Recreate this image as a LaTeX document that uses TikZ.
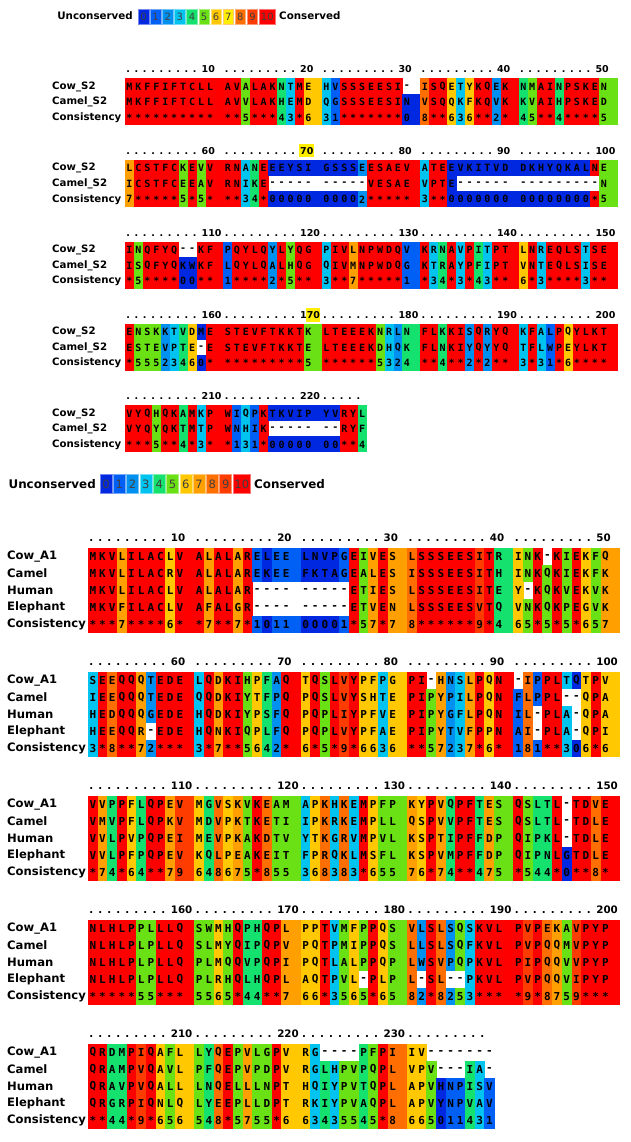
\documentclass[tikz,border=0pt]{standalone}
\usepackage{fontspec}
\setmainfont{DejaVu Sans}
\setmonofont{DejaVu Sans Mono}

% consistency colours 0..10
\definecolor{c0}{RGB}{0,40,225}
\definecolor{c1}{RGB}{0,95,245}
\definecolor{c2}{RGB}{0,145,240}
\definecolor{c3}{RGB}{0,195,240}
\definecolor{c4}{RGB}{20,225,110}
\definecolor{c5}{RGB}{105,225,20}
\definecolor{c6}{RGB}{255,200,0}
\definecolor{c7}{RGB}{255,160,0}
\definecolor{c8}{RGB}{255,110,0}
\definecolor{c9}{RGB}{255,60,0}
\definecolor{c10}{RGB}{255,0,0}
\definecolor{hl}{RGB}{255,238,0}

\ExplSyntaxOn
\cs_generate_variant:Nn \str_item:nn { on }
\cs_new:Npn \seqchar #1#2 { \str_item:on {#1} {#2} }
\ExplSyntaxOff

% #1 x0, #2 y of first row, #3 cell width, #4 row height,
% #5 column offset, #6 columns, #7 sequences, #8 consistency
\newcommand\alnline[8]{%
  \foreach \s [count=\k] in {#7,#8} {
    \pgfmathsetmacro\yy{#2+(\k-1)*#4}
    \foreach \j in {1,...,#6} {
      \edef\cc{\seqchar{#8}{\j}}
      \edef\rc{\seqchar{\s}{\j}}
      \if*\cc \def\colr{c10}\else \edef\colr{c\cc}\fi
      \pgfmathsetmacro\xx{#1+(\j-1+int((\j-1)/10))*#3}
      \pgfmathsetmacro\ww{(mod(\j,10)==0) ? 2*#3 : #3}
      \if-\rc\else
        \fill[\colr] (\xx,\yy-#4/2) rectangle ++(\ww+0.4,#4+0.4);
      \fi
      \node[res] at (\xx+#3/2,\yy+0.5) {\rc};
    }
  }
  \foreach \nm [count=\k] in \alnnames
    \node[lbl] at (\lblx,{#2+(\k-1)*#4+0.5}) {\nm};
  % ruler
  \pgfmathtruncatemacro\nb{ceil(#6/10)-1}
  \foreach \b in {0,...,\nb} {
    \pgfmathtruncatemacro\nd{min(10,#6-10*\b)}
    \ifnum\nd=10
      \pgfmathtruncatemacro\lab{#5+10*\b+10}
      \node[rul,anchor=base west] at ({#1+(11*\b+8.55)*#3},#2-\rulofs) {\lab};
      \def\nk{9}
    \else
      \let\nk\nd
    \fi
    \foreach \q in {1,...,\nk}
      \node[rul] at ({#1+(11*\b+0.35+0.93*(\q-1))*#3},#2-\rulofs) {.};
  }
}

\begin{document}
\begin{tikzpicture}[x=1pt,y=-1pt,
  res/.style={inner sep=0pt,font=\resfont},
  lbl/.style={anchor=west,inner sep=0pt,font=\lblfont},
  rul/.style={inner sep=0pt,anchor=base,font=\rulfont},
  legtxt/.style={inner sep=0pt,font=\bfseries\fontsize{#1}{#1}\selectfont},
  legnum/.style={inner sep=0pt,text=black!75,font=\fontsize{#1}{#1}\selectfont}]
\useasboundingbox (0,0) rectangle (630,1142);
\fill[white] (0,0) rectangle (630,1142);

%% legend, first alignment
\node[legtxt=10.3,anchor=east] (unc1) at (133,16) {Unconserved};
\foreach \v in {0,...,10} {
  \pgfmathsetmacro\bx{138.3+12.1*\v}
  \pgfmathsetmacro\bw{\v==10 ? 16 : 10.5}
  \def\lf{c\v}\ifnum\v=7 \def\lf{hl}\fi
  \filldraw[fill=\lf,draw=c\v!55!white,line width=0.6pt] (\bx,9) rectangle ++(\bw,15);
  \node[legnum=10] at (\bx+\bw/2,16.5) {\v};
}
\node[legtxt=10.3,anchor=west] (con1) at (279,16) {Conserved};

%% S2 alignment
\def\resfont{\ttfamily\bfseries\fontsize{10}{12}\selectfont}
\def\lblfont{\bfseries\fontsize{10.2}{12}\selectfont}
\def\rulfont{\bfseries\fontsize{9.5}{12}\selectfont}
\def\alnnames{Cow\_S2,Camel\_S2,Consistency}
\def\lblx{52}
\def\rulofs{13.3}
\fill[hl] (299,144) rectangle (314,157.5);
\fill[hl] (306,308) rectangle (320,321.5);

\alnline{125}{86}{8.95}{15.5}{0}{50}
  {MKFFIFTCLLAVALAKNTMEHVSSSEESI-ISQETYKQEKNMAINPSKEN,
   MKFFIFTCLLAVVLAKHEMDQGSSSEESINVSQQKFKQVKKVAIHPSKED}
  {************5***43*631*******08**636**2*45**4****5}
\alnline{125}{167.8}{8.95}{15.5}{50}{50}
  {LCSTFCKEVVRNANEEEYSIGSSSEESAEVATEEVKITVDDKHYQKALNE,
   ICSTFCEEAVRNIKE----------VESAEVPTE---------------NK}
  {7*****5*5***34*0000000002*****3**000000000000000*5}
\alnline{125}{249.6}{8.95}{15.5}{100}{50}
  {INQFYQ--KFPQYLQYLYQGPIVLNPWDQVKRNAVPITPTLNREQLSTSE,
   ISQFYQKWKFLQYLQALHQGQIVMNPWDQGKTRAYPFIPTVNTEQLSISE}
  {*5****00**1****2*5**3**7*****1*34*3*43**6*3****3**}
\alnline{125}{331.4}{8.95}{15.5}{150}{50}
  {ENSKKTVDMESTEVFTKKTKLTEEEKNRLNFLKKISQRYQKFALPQYLKT,
   ESTEVPTE-ESTEVFTKKTELTEEEKDHQKFLNKIYQYYQTFLWPEYLKT}
  {*55523460**********5******5324**4**2*2**3*31*6****}
\alnline{125}{413.2}{8.95}{15.5}{200}{25}
  {VYQHQKAMKPWIQPKTKVIPYVRYL,
   VYQYQKTMTPWNHIK-------RYF}
  {***5**4*3**131*0000000**4}

%% legend, second alignment
\node[legtxt=11.9,anchor=east] (unc2) at (96,484) {Unconserved};
\foreach \v in {0,...,10} {
  \pgfmathsetmacro\bx{100+13.3*\v}
  \pgfmathsetmacro\bw{\v==10 ? 17.5 : 12}
  \filldraw[fill=c\v,draw=c\v!55!white,line width=0.6pt] (\bx,474) rectangle ++(\bw,19);
  \node[legnum=11.5] at (\bx+\bw/2,484) {\v};
}
\node[legtxt=11.9,anchor=west] (con2) at (254,484) {Conserved};

%% A1 alignment
\def\resfont{\ttfamily\bfseries\fontsize{11}{12}\selectfont}
\def\lblfont{\bfseries\fontsize{11.6}{12}\selectfont}
\def\rulfont{\bfseries\fontsize{10.3}{12}\selectfont}
\def\alnnames{Cow\_A1,Camel,Human,Elephant,Consistency}
\def\lblx{7}
\def\rulofs{14.5}

\alnline{88}{556}{9.67}{17}{0}{50}
  {MKVLILACLVALALARELEELNVPGEIVESLSSSEESITRINK-KIEKFQ,
   MKVLILACRVALALAREKEEFKTAGEALESISSSEESITHINKQKIEKFK,
   MKVLILACLVALALAR---------ETIESLSSSEESITEY-KQKVEKVK,
   MKVFILACLVAFALGR---------ETVENLSSSEESVTQVNKQKPEGVK}
  {***7****6**7**7*101100001*57*78******9*465*5*5*657}
\alnline{88}{680}{9.67}{17}{50}{50}
  {SEEQQQTEDELQDKIHPFAQTQSLVYPFPGPI-HNSLPQN-IPPLTQTPV,
   IEEQQQTEDEQQDKIYTFPQPQSLVYSHTEPIPYPILPQNFLPPL--QPA,
   HEDQQQGEDEHQDKIYPSFQPQPLIYPFVEPIPYGFLPQNIL-PLA-QPA,
   HEEQQR-EDEHQNKIQPLFQPQPLVYPFAEPIPYTVFPPNAI-PLA-QPI}
  {3*8**72***3*7**5642*6*5*9*6636**57237*6*181**306*6}
\alnline{88}{804}{9.67}{17}{100}{50}
  {VVPPFLQPEVMGVSKVKEAMAPKHKEMPFPKYPVQPFTESQSLTL-TDVE,
   VMVPFLQPKVMDVPKTKETIIPKRKEMPLLQSPVVPFTESQSLTL-TDLE,
   VVLPVPQPEIMEVPKAKDTVYTKGRVMPVLKSPTIPFFDPQIPKL-TDLE,
   VVLPFPQPEVKQLPEAKEITFPRQKLMSFLKSPVMPFFDPQIPNLGTDLE}
  {*74*64**79648675*855368383*65576*74**475*544*0**8*}
\alnline{88}{928}{9.67}{17}{150}{50}
  {NLHLPPLLLQSWMHQPHQPLPPTVMFPPQSVLSLSQSKVLPVPEKAVPYP,
   NLHLPLPLLQSLMYQIPQPVPQTPMIPPQSLLSLSQFKVLPVPQQMVPYP,
   NLHLPLPLLQPLMQQVPQPIPQTLALPPQPLWSVPQPKVLPIPQQVVPYP,
   NLHLPLPLLQPLRHQLHQPLAQTPVL-PLPL-SL--PKVLPVPQQVIPYP}
  {*****55***5565*44**766*3565*6582*8253****9*8759***}
\alnline{88}{1052}{9.67}{17}{200}{39}
  {QRDMPIQAFLLYQEPVLGPVRG----PFPIIV-------,
   QRAMPVQAVLPFQEPVPDPVRGLHPVPQPLVPV---IA-,
   QRAVPVQALLLNQELLLNPTHQIYPVTQPLAPVHNPISV,
   QRGRPIQNLQLYEEPLLDPTRKIYPVAQPLAPVYNPVAV}
  {**44*9*656548*5755*663435545*8665011431}
\end{tikzpicture}
\end{document}
